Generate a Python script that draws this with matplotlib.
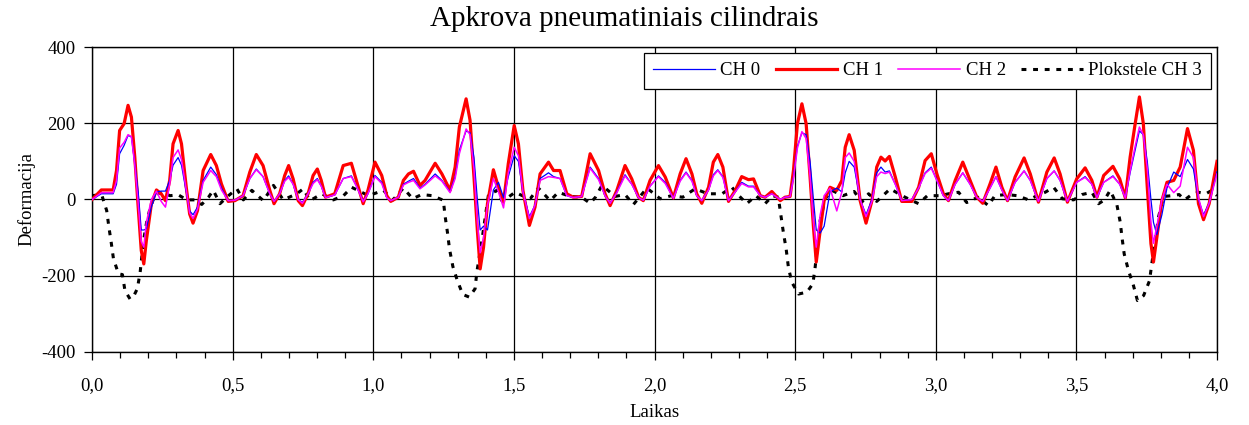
import matplotlib.pyplot as plt
from matplotlib.ticker import MultipleLocator, FuncFormatter

plt.rcParams["font.family"] = ["Liberation Serif", "DejaVu Serif"]
plt.rcParams["axes.unicode_minus"] = False

# CH 0 / CH 1 / CH 2 share the same time points
time = [0.0, 0.033, 0.075, 0.087, 0.098, 0.114, 0.128, 0.14, 0.152, 0.164,
        0.175, 0.184, 0.193, 0.211, 0.229, 0.246, 0.261, 0.276, 0.288, 0.306,
        0.318, 0.335, 0.347, 0.359, 0.375, 0.395, 0.422, 0.442, 0.46, 0.484,
        0.508, 0.537, 0.561, 0.584, 0.608, 0.632, 0.647, 0.667, 0.685, 0.699,
        0.715, 0.733, 0.748, 0.768, 0.786, 0.801, 0.815, 0.83, 0.863, 0.893,
        0.922, 0.94, 0.964, 0.981,
        1.006, 1.03, 1.048, 1.062, 1.089, 1.107, 1.125, 1.143, 1.166, 1.184,
        1.22, 1.244, 1.273, 1.291, 1.306, 1.33, 1.344, 1.358, 1.37, 1.38,
        1.392, 1.406, 1.427, 1.445, 1.463, 1.48, 1.501, 1.516, 1.532, 1.555,
        1.575, 1.593, 1.623, 1.641, 1.664, 1.688, 1.711, 1.741, 1.771, 1.801,
        1.824, 1.842, 1.866, 1.895, 1.919, 1.943, 1.96, 1.984,
        2.014, 2.038, 2.067, 2.091, 2.112, 2.133, 2.15, 2.168, 2.192, 2.209,
        2.225, 2.243, 2.263, 2.287, 2.31, 2.334, 2.352, 2.376, 2.393, 2.417,
        2.447, 2.464, 2.482, 2.494, 2.508, 2.524, 2.539, 2.553, 2.565, 2.575,
        2.589, 2.603, 2.624, 2.648, 2.666, 2.678, 2.692, 2.71, 2.731, 2.752,
        2.773, 2.79, 2.805, 2.82, 2.835, 2.856, 2.879, 2.915, 2.939, 2.962,
        2.984,
        3.004, 3.027, 3.045, 3.069, 3.096, 3.122, 3.146, 3.167, 3.193, 3.214,
        3.235, 3.255, 3.282, 3.314, 3.336, 3.365, 3.395, 3.421, 3.442, 3.468,
        3.501, 3.531, 3.555, 3.573, 3.597, 3.63, 3.654, 3.674, 3.691, 3.709,
        3.724, 3.738, 3.752, 3.765, 3.774, 3.786, 3.804, 3.822, 3.846, 3.869,
        3.895, 3.916, 3.934, 3.952, 3.972, 4.0]

ch1 = [0, 25, 25, 76, 181, 199, 247, 216, 111, -20,
       -134, -169, -108, -11, 25, 15, -3, 50, 146, 181,
       146, 32, -38, -62, -29, 76, 118, 89, 41, -5,
       -3, 10, 72, 118, 89, 24, -11, 15, 63, 89,
       54, -3, -16, 15, 63, 80, 50, 6, 15, 89,
       95, 50, -11, 24,
       98, 63, 10, -5, 6, 50, 67, 74, 37, 50,
       95, 67, 24, 85, 190, 264, 208, 59, -81, -182,
       -125, -11, 78, 32, -7, 94, 194, 146, 24, -68,
       -20, 67, 98, 76, 76, 15, 6, 8, 120, 76,
       15, -16, 24, 89, 54, 6, -3, 50,
       89, 59, 4, 67, 107, 67, 15, -10, 32, 98,
       118, 85, -5, 24, 60, 52, 54, 10, 6, 21,
       -3, 6, 8, 76, 199, 251, 199, 59, -72, -164,
       -81, -3, 32, 24, 50, 137, 170, 129, -3, -62,
       -3, 85, 111, 101, 113, 59, -5, -5, 32, 102,
       120,
       67, 15, -3, 50, 98, 50, 6, -10, 41, 85,
       32, -3, 59, 109, 67, -7, 72, 109, 67, -7,
       54, 83, 50, 6, 63, 87, 54, 4, 111, 199,
       269, 199, 32, -116, -164, -99, -3, 45, 50, 85,
       186, 129, -11, -53, -11, 100]

ch0 = [0, 15, 15, 40, 120, 142, 168, 164, 94, 20,
       -80, -80, -77, -20, 20, 22, 22, 50, 90, 110,
       90, 20, -30, -40, -20, 50, 85, 65, 30, -3,
       -2, 10, 55, 80, 60, 15, -5, 15, 50, 62,
       40, 0, -8, 15, 45, 55, 35, 5, 12, 55,
       62, 35, -5, 15,
       63, 45, 5, -3, 6, 40, 48, 55, 30, 40,
       67, 50, 20, 60, 130, 180, 175, 110, 0, -80,
       -70, -80, 25, 45, 5, 60, 115, 100, 20, -45,
       -15, 55, 70, 60, 55, 10, 5, 8, 85, 55,
       10, -10, 20, 65, 40, 5, -2, 35,
       62, 45, 3, 50, 72, 50, 10, -3, 25, 65,
       78, 60, -3, 20, 45, 35, 35, 10, 6, 15,
       0, 6, 8, 60, 140, 175, 170, 100, 0, -80,
       -88, -70, 20, 30, 20, 70, 100, 85, 0, -40,
       0, 70, 85, 72, 75, 40, -3, 0, 30, 70,
       85,
       50, 10, -3, 40, 70, 40, 5, -5, 30, 60,
       25, -3, 45, 75, 50, -5, 55, 75, 50, -5,
       45, 60, 40, 5, 45, 62, 40, 4, 70, 130,
       180, 170, 100, 0, -60, -92, -40, 30, 72, 60,
       105, 80, 0, -40, -10, 73]

ch2 = [0, 18, 18, 50, 135, 150, 170, 165, 90, -10,
       -110, -125, -60, 0, 22, -5, -20, 40, 110, 130,
       105, 25, -35, -50, -25, 45, 76, 60, 25, -3,
       -2, 10, 55, 78, 60, 15, -5, 15, 48, 58,
       40, 0, -10, 15, 42, 52, 35, 5, 12, 55,
       60, 35, -6, 15,
       60, 42, 5, -3, 6, 38, 45, 50, 28, 38,
       62, 48, 18, 55, 120, 185, 170, 80, -60, -140,
       -100, -15, 55, 20, -22, 70, 137, 115, 20, -50,
       -15, 50, 60, 58, 55, 10, 5, 8, 82, 52,
       10, -10, 18, 62, 40, 5, -2, 35,
       60, 42, 3, 48, 70, 48, 10, -3, 25, 62,
       76, 58, -3, 20, 42, 33, 33, 10, 6, 15,
       0, 6, 8, 55, 135, 178, 160, 60, -60, -125,
       -40, 10, 30, -30, 20, 110, 122, 100, 0, -45,
       -5, 60, 72, 68, 72, 40, -3, 0, 30, 68,
       82,
       50, 10, -3, 40, 70, 40, 5, -5, 30, 60,
       25, -3, 45, 75, 50, -5, 55, 75, 50, -5,
       45, 58, 40, 5, 45, 60, 40, 4, 75, 140,
       190, 170, 80, -60, -115, -70, 0, 40, 18, 35,
       137, 110, 5, -45, -10, 67]

# Plokstele CH 3
time3 = [0.0, 0.034, 0.052, 0.060, 0.068, 0.076, 0.094, 0.108, 0.117, 0.135,
         0.147, 0.161, 0.171, 0.183, 0.194, 0.206, 0.224, 0.248, 0.277, 0.307,
         0.337, 0.366, 0.390, 0.414, 0.431, 0.455, 0.485, 0.515, 0.538, 0.568,
         0.609, 0.645, 0.680, 0.728, 0.751, 0.775, 0.817, 0.858, 0.894, 0.923,
         0.983, 1.036, 1.07, 1.107, 1.14, 1.172, 1.21, 1.249, 1.255, 1.264,
         1.271, 1.283, 1.299, 1.318, 1.341, 1.362, 1.368, 1.386, 1.398, 1.409,
         1.439, 1.457, 1.48, 1.504, 1.53, 1.558, 1.587, 1.629, 1.658, 1.70,
         1.741, 1.771, 1.79, 1.813, 1.86, 1.895, 1.925, 1.973, 2.02, 2.06,
         2.10, 2.144, 2.19, 2.24, 2.275, 2.30, 2.328, 2.36, 2.393, 2.42,
         2.44, 2.45, 2.458, 2.468, 2.476, 2.488, 2.512, 2.542, 2.563, 2.571,
         2.589, 2.607, 2.63, 2.67, 2.71, 2.737, 2.761, 2.79, 2.838, 2.88,
         2.91, 2.939, 2.97, 3.016, 3.045, 3.081, 3.11, 3.15, 3.187, 3.21,
         3.25, 3.29, 3.33, 3.36, 3.389, 3.419, 3.45, 3.49, 3.52, 3.555,
         3.579, 3.60, 3.62, 3.644, 3.656, 3.662, 3.67, 3.685, 3.703, 3.717,
         3.739, 3.76, 3.768, 3.78, 3.792, 3.81, 3.84, 3.865, 3.885, 3.91,
         3.934, 3.96, 3.982, 4.0]

ch3 = [10, 13, -29, -73, -112, -155, -195, -197, -239, -261,
       -255, -234, -191, -108, -60, -24, 13, 19, 10, 12,
       -1, -1, -13, 6, 24, -11, 10, 28, -1, 24,
       -3, 37, -1, 15, 28, -3, 15, -1, 10, 32,
       10, 24, -1, 30, 2, 13, 10, -2, -42, -88,
       -130, -176, -213, -249, -256, -234, -191, -108, -46, 10,
       24, -3, 6, 19, 10, 2, 30, -3, 19, 8,
       6, -10, 6, 37, 8, 13, -13, 30, 2, 10,
       6, 28, 15, 15, 32, 10, -11, 10, -11, 10,
       6, -46, -86, -130, -178, -217, -248, -243, -221, -178,
       -55, 2, 24, 10, 21, -7, 15, -5, 28, 10,
       -1, -11, 10, 10, 15, 19, -8, 6, -16, 10,
       13, 10, -1, 10, 19, 32, 2, -1, 13, 19,
       -11, -1, 24, -14, -60, -99, -143, -186, -226, -265,
       -252, -213, -169, -108, -46, 8, 10, 13, -1, 13,
       19, 15, 24, 10]

fig = plt.figure(figsize=(12.49, 4.25), dpi=100)
ax = fig.add_axes([0.0737, 0.1718, 0.9007, 0.7176])

ax.plot(time, ch0, color="#0000ff", lw=0.9, label="CH 0", zorder=4)
ax.plot(time, ch1, color="#ff0000", lw=2.3, label="CH 1", zorder=3)
ax.plot(time, ch2, color="#ff00ff", lw=1.1, label="CH 2", zorder=5)
ax.plot(time3, ch3, color="black", lw=2.2, ls=(0, (1.6, 2.2)),
        label="Plokstele CH 3", zorder=2)

ax.set_xlim(0, 4)
ax.set_ylim(-400, 400)
ax.xaxis.set_major_locator(MultipleLocator(0.5))
ax.xaxis.set_minor_locator(MultipleLocator(0.1))
ax.yaxis.set_major_locator(MultipleLocator(200))
ax.xaxis.set_major_formatter(FuncFormatter(lambda v, p: f"{v:.1f}".replace(".", ",")))
ax.grid(True, which="major", color="black", lw=0.9)
ax.tick_params(axis="both", which="major", direction="out", length=6,
               width=0.9, labelsize=13.5, pad=6)
ax.tick_params(axis="x", which="minor", direction="out", length=4, width=0.9)
ax.tick_params(axis="x", pad=12)
for s in ax.spines.values():
    s.set_color("black")
    s.set_linewidth(1.0)

ax.set_xlabel("Laikas", fontsize=13.5, labelpad=7)
ax.set_ylabel("Deformacija", fontsize=13.5, labelpad=4)
fig.text(0.5, 0.955, "Apkrova pneumatiniais cilindrais", ha="center",
         va="center", fontsize=21)

leg = ax.legend(loc="upper right", ncol=4, fontsize=13.5, frameon=True,
                fancybox=False, framealpha=1, edgecolor="black",
                borderaxespad=0.3, handlelength=3.3, columnspacing=0.8,
                handletextpad=0.3, borderpad=0.5)
leg.get_frame().set_linewidth(0.9)

fig.savefig("out.png", dpi=100)
